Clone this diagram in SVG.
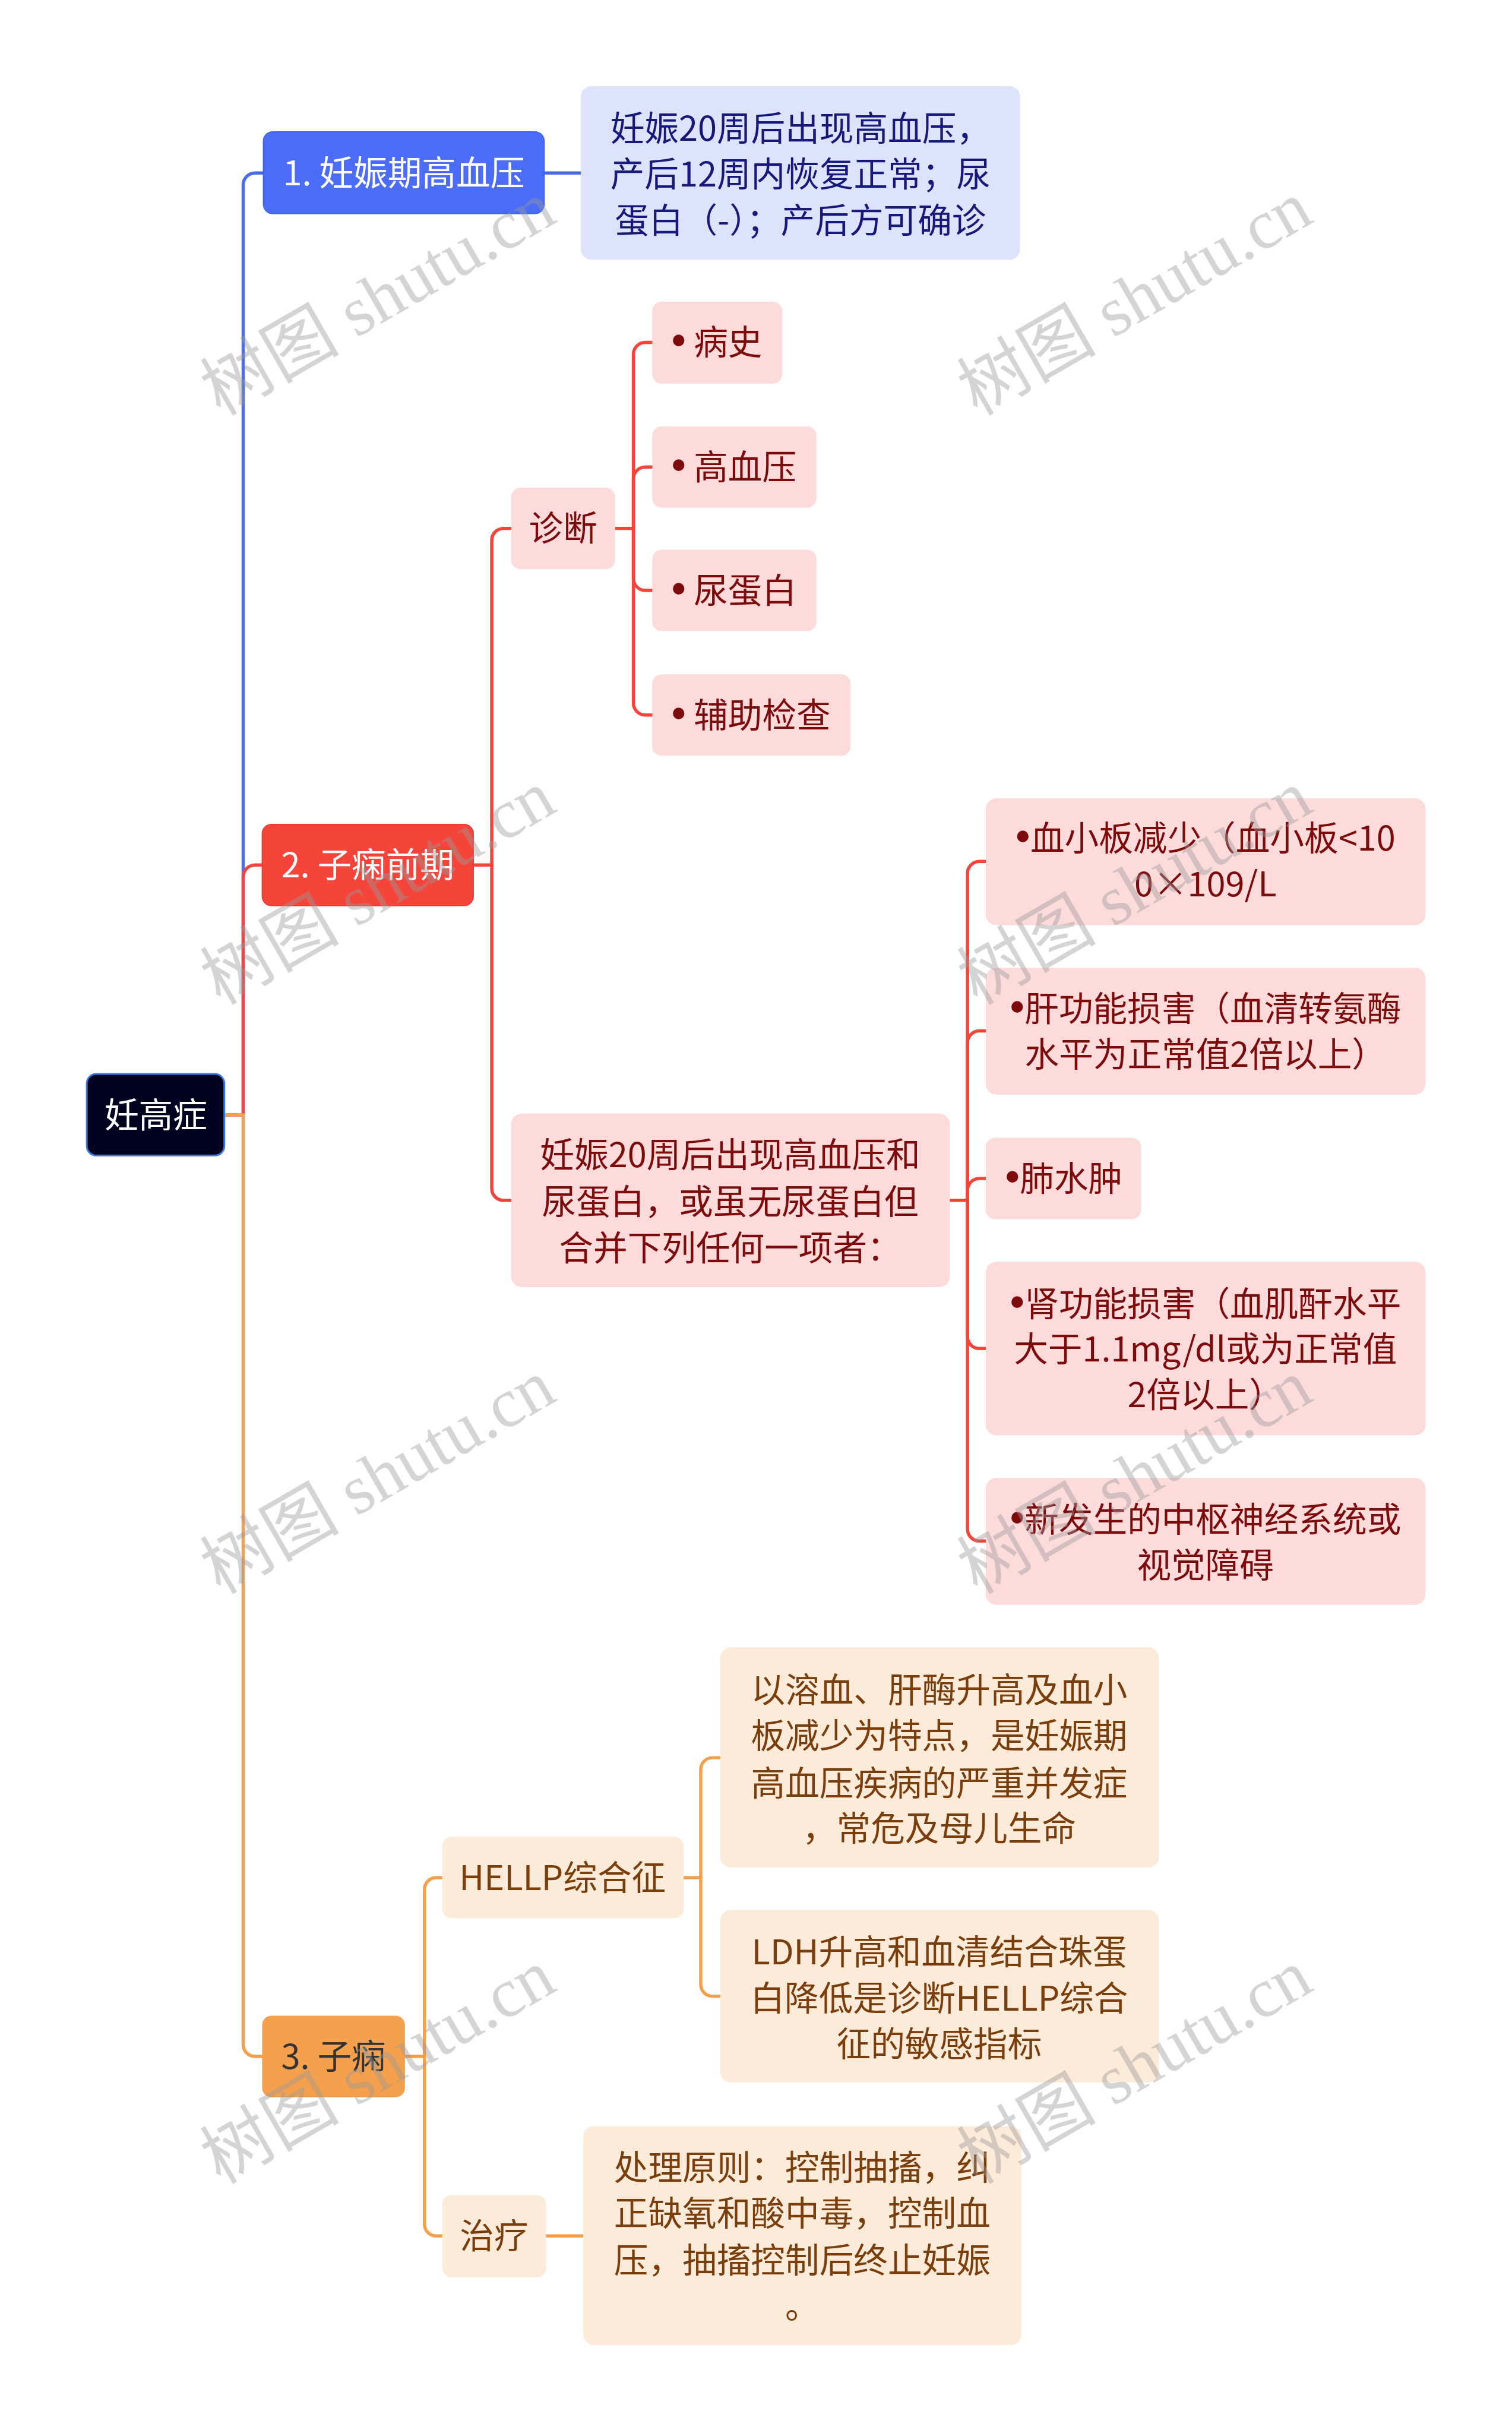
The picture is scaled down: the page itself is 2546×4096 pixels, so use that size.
<svg xmlns="http://www.w3.org/2000/svg" width="2546" height="4096" viewBox="0 0 2546 4096">
<style>
text{font-family:"Noto Sans CJK SC","Noto Sans",sans-serif;font-size:58px;}
.c{text-anchor:middle;}
.w{fill:#ffffff;}
.navy{fill:#16197a;}
.dred{fill:#7d0b0b;}
.brown{fill:#7a3e0c;}
.dark{fill:#333333;}
.bul{font-family:"Liberation Sans",sans-serif;font-size:72px;}
.lb{fill:none;stroke-width:5.5;stroke-linecap:round;stroke-linejoin:round;}
.blue{stroke:#4a6cf7;}
.red{stroke:#f5453b;}
.org{stroke:#f4a04c;}
.pink{fill:#fddbdb;}
.peach{fill:#fdebda;}
.wm{font-family:"Liberation Serif","Noto Sans CJK SC",serif;font-size:118px;fill:#9a9a9a;opacity:0.42;text-anchor:middle;}
</style>
<rect x="0" y="0" width="2546" height="4096" fill="#ffffff"/>
<g transform="scale(0.994)">
<g id="connectors">
<path class="lb blue" d="M381 1888 H412 V313 A20 20 0 0 1 432 293 H446"/>
<path class="lb red" d="M381 1888 H412 V1485 A20 20 0 0 1 432 1465 H444"/>
<path class="lb org" d="M381 1888 H412 V3463 A20 20 0 0 0 432 3483 H444"/>
<path class="lb blue" d="M922 293 H984"/>
<path class="lb red" d="M802 1465 H833 V915 A20 20 0 0 1 853 895 H866"/>
<path class="lb red" d="M833 1465 V2013 A20 20 0 0 0 853 2033 H866"/>
<path class="lb red" d="M1042 895 H1073 V600 A20 20 0 0 1 1093 580 H1105"/>
<path class="lb red" d="M1073 895 V811 A20 20 0 0 1 1093 791 H1105"/>
<path class="lb red" d="M1073 895 V980 A20 20 0 0 0 1093 1000 H1105"/>
<path class="lb red" d="M1073 895 V1191 A20 20 0 0 0 1093 1211 H1105"/>
<path class="lb red" d="M1609 2033 H1639 V1479 A20 20 0 0 1 1659 1459 H1670"/>
<path class="lb red" d="M1639 2033 V1766 A20 20 0 0 1 1659 1746 H1670"/>
<path class="lb red" d="M1639 2033 V2016 A20 20 0 0 1 1659 1996 H1670"/>
<path class="lb red" d="M1639 2033 V2264 A20 20 0 0 0 1659 2284 H1670"/>
<path class="lb red" d="M1639 2033 V2590 A20 20 0 0 0 1659 2610 H1670"/>
<path class="lb org" d="M686 3483 H719 V3200 A20 20 0 0 1 739 3180 H749"/>
<path class="lb org" d="M719 3483 V3767 A20 20 0 0 0 739 3787 H749"/>
<path class="lb org" d="M1158 3180 H1187 V2997 A20 20 0 0 1 1207 2977 H1220"/>
<path class="lb org" d="M1187 3180 V3361 A20 20 0 0 0 1207 3381 H1220"/>
<path class="lb org" d="M925 3787 H988"/>
</g>
<g id="root">
<rect x="147" y="1819" width="233" height="138" rx="16" fill="#00001f" stroke="#3b78dd" stroke-width="3"/>
<text class="c w" x="264" y="1909">妊高症</text>
</g>
<g id="b1">
<rect x="446" y="223" width="476" height="139" rx="16" fill="#4a6cf7" stroke="#3f60e6" stroke-width="1.5"/>
<text class="c w" x="684" y="314">1. 妊娠期高血压</text>
</g>
<g id="b1c">
<rect x="984" y="146" width="744" height="294" rx="18" fill="#dce3fb"/>
<text class="c navy" x="1356" y="238">妊娠20周后出现高血压，</text>
<text class="c navy" x="1356" y="316">产后12周内恢复正常；尿</text>
<text class="c navy" x="1356" y="394">蛋白（-）；产后方可确诊</text>
</g>
<g id="b2">
<rect x="444" y="1396" width="358" height="138" rx="16" fill="#f5453b" stroke="#e63a30" stroke-width="1.5"/>
<text class="c w" x="623" y="1486">2. 子痫前期</text>
</g>
<g id="diag">
<rect class="pink" x="866" y="826" width="176" height="138" rx="16"/>
<text class="c dred" x="954" y="916">诊断</text>
</g>
<g id="d1">
<rect class="pink" x="1105" y="511" width="220" height="139" rx="16"/>
<text class="dred" x="1137" y="601"><tspan class="bul">•</tspan> 病史</text>
</g>
<g id="d2">
<rect class="pink" x="1105" y="722" width="278" height="138" rx="16"/>
<text class="dred" x="1137" y="812"><tspan class="bul">•</tspan> 高血压</text>
</g>
<g id="d3">
<rect class="pink" x="1105" y="931" width="278" height="138" rx="16"/>
<text class="dred" x="1137" y="1021"><tspan class="bul">•</tspan> 尿蛋白</text>
</g>
<g id="d4">
<rect class="pink" x="1105" y="1142" width="336" height="138" rx="16"/>
<text class="dred" x="1137" y="1232"><tspan class="bul">•</tspan> 辅助检查</text>
</g>
<g id="crit">
<rect class="pink" x="866" y="1886" width="743" height="294" rx="18"/>
<text class="c dred" x="1237" y="1977">妊娠20周后出现高血压和</text>
<text class="c dred" x="1237" y="2056">尿蛋白，或虽无尿蛋白但</text>
<text class="c dred" x="1237" y="2135">合并下列任何一项者：</text>
</g>
<g id="i1">
<rect class="pink" x="1670" y="1352" width="745" height="215" rx="18"/>
<text class="c dred" x="2042" y="1441"><tspan class="bul">•</tspan>血小板减少（血小板&lt;10</text>
<text class="c dred" x="2042" y="1518">0×109/L</text>
</g>
<g id="i2">
<rect class="pink" x="1670" y="1639" width="745" height="215" rx="18"/>
<text class="c dred" x="2042" y="1729"><tspan class="bul">•</tspan>肝功能损害（血清转氨酶</text>
<text class="c dred" x="2042" y="1807">水平为正常值2倍以上）</text>
</g>
<g id="i3">
<rect class="pink" x="1670" y="1927" width="263" height="138" rx="16"/>
<text class="c dred" x="1802" y="2017"><tspan class="bul">•</tspan>肺水肿</text>
</g>
<g id="i4">
<rect class="pink" x="1670" y="2137" width="745" height="294" rx="18"/>
<text class="c dred" x="2042" y="2229"><tspan class="bul">•</tspan>肾功能损害（血肌酐水平</text>
<text class="c dred" x="2042" y="2306">大于1.1mg/dl或为正常值</text>
<text class="c dred" x="2042" y="2383">2倍以上）</text>
</g>
<g id="i5">
<rect class="pink" x="1670" y="2503" width="745" height="215" rx="18"/>
<text class="c dred" x="2042" y="2595"><tspan class="bul">•</tspan>新发生的中枢神经系统或</text>
<text class="c dred" x="2042" y="2672">视觉障碍</text>
</g>
<g id="b3">
<rect x="444" y="3414" width="242" height="138" rx="16" fill="#f4a04c"/>
<text class="c dark" x="565" y="3504">3. 子痫</text>
</g>
<g id="hellp">
<rect class="peach" x="749" y="3111" width="409" height="138" rx="16"/>
<text class="c brown" x="953" y="3201">HELLP综合征</text>
</g>
<g id="h1">
<rect class="peach" x="1220" y="2790" width="743" height="373" rx="18"/>
<text class="c brown" x="1591" y="2883">以溶血、肝酶升高及血小</text>
<text class="c brown" x="1591" y="2961">板减少为特点，是妊娠期</text>
<text class="c brown" x="1591" y="3041">高血压疾病的严重并发症</text>
<text class="c brown" x="1591" y="3118">，常危及母儿生命</text>
</g>
<g id="h2">
<rect class="peach" x="1220" y="3235" width="743" height="292" rx="18"/>
<text class="c brown" x="1591" y="3327">LDH升高和血清结合珠蛋</text>
<text class="c brown" x="1591" y="3405">白降低是诊断HELLP综合</text>
<text class="c brown" x="1591" y="3483">征的敏感指标</text>
</g>
<g id="treat">
<rect class="peach" x="749" y="3718" width="176" height="139" rx="16"/>
<text class="c brown" x="837" y="3808">治疗</text>
</g>
<g id="t1">
<rect class="peach" x="988" y="3601" width="742" height="371" rx="18"/>
<text class="c brown" x="1359" y="3692">处理原则：控制抽搐，纠</text>
<text class="c brown" x="1359" y="3770">正缺氧和酸中毒，控制血</text>
<text class="c brown" x="1359" y="3849">压，抽搐控制后终止妊娠</text>
<text class="c brown" x="1359" y="3927">。</text>
</g>
<g id="watermarks">
<text class="wm" transform="translate(660 540) rotate(-30)">树图 shutu.cn</text>
<text class="wm" transform="translate(1942 540) rotate(-30)">树图 shutu.cn</text>
<text class="wm" transform="translate(660 1538) rotate(-30)">树图 shutu.cn</text>
<text class="wm" transform="translate(1942 1538) rotate(-30)">树图 shutu.cn</text>
<text class="wm" transform="translate(660 2536) rotate(-30)">树图 shutu.cn</text>
<text class="wm" transform="translate(1942 2536) rotate(-30)">树图 shutu.cn</text>
<text class="wm" transform="translate(660 3535) rotate(-30)">树图 shutu.cn</text>
<text class="wm" transform="translate(1942 3535) rotate(-30)">树图 shutu.cn</text>
</g>
</g>
</svg>
